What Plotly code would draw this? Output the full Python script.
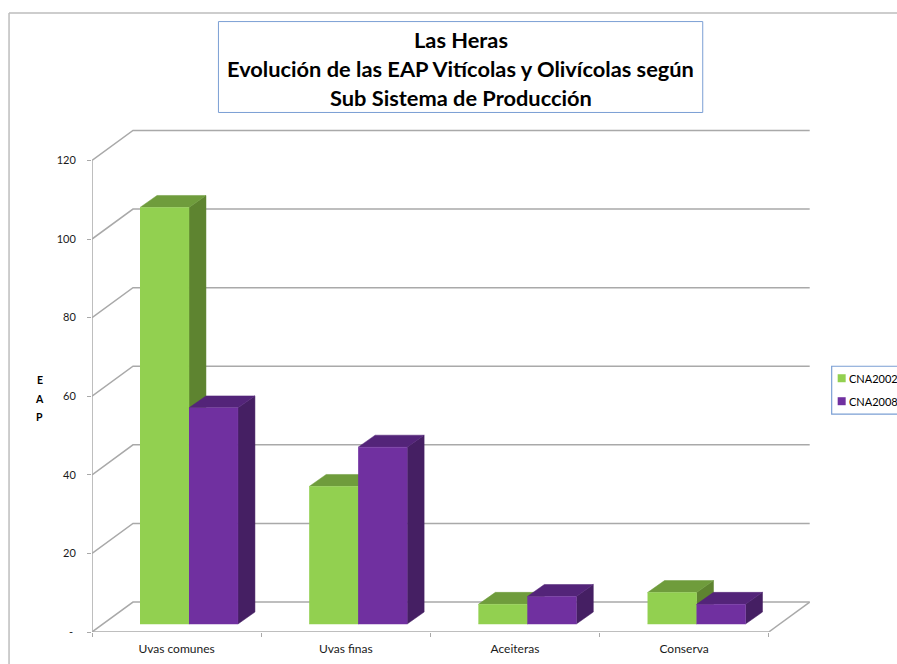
import plotly.graph_objects as go

categories = ["Uvas comunes", "Uvas finas", "Aceiteras", "Conserva"]
cna2002 = [106, 35, 5, 8]
cna2008 = [55, 45, 7, 5]
y_ticks = [0, 20, 40, 60, 80, 100, 120]
y_labels = ["-\u00a0", "20", "40", "60", "80", "100", "120"]

W, H = 897, 664
L, R, T, B = 92, 769, 160, 632
cat_px = (R - L) / 4
val_px = (B - T) / 120
wall_dx, wall_dy = 41 / cat_px, 30 / val_px
off_dx, off_dy = 12.4 / cat_px, 8 / val_px
bar_dx, bar_dy = 17 / cat_px, 12 / val_px
bar_w = 49 / cat_px
GRID = "#A9A9A9"
GREEN = ("#92D050", "#6F9C3C", "#5E8430")
PURPLE = ("#7030A0", "#532479", "#451F63")
BLUE = "#7B9FD4"
FONT = "Lato"

x0, x1 = -0.5, len(categories) - 0.5
x_top = x1 + 0.25
y_top = 128
PR = L + (x_top - x0) * cat_px
PT = B - y_top * val_px


def px(p):
    return (p - L) / (PR - L)


def py(p):
    return (B - p) / (B - PT)


fig = go.Figure()


def line(xs, ys):
    fig.add_trace(go.Scatter(x=xs, y=ys, mode="lines", showlegend=False, hoverinfo="skip",
                             cliponaxis=False, line=dict(color=GRID, width=1.5)))


def poly(xs, ys, color):
    fig.add_trace(go.Scatter(x=xs, y=ys, mode="lines", fill="toself", fillcolor=color,
                             showlegend=False, hoverinfo="skip", cliponaxis=False,
                             line=dict(color=color, width=0.5)))


for v in y_ticks:
    line([x0, x0 + wall_dx, x1 + wall_dx], [v, v + wall_dy, v + wall_dy])
line([x1, x1 + wall_dx], [0, wall_dy])
line([x0, x0], [0, y_ticks[-1]])
line([x0, x1], [0, 0])

for i in range(len(categories)):
    for left, v, cols in ((i + off_dx - bar_w, cna2002[i], GREEN), (i + off_dx, cna2008[i], PURPLE)):
        right = left + bar_w
        b, t = off_dy, off_dy + v
        poly([right, right + bar_dx, right + bar_dx, right],
             [b, b + bar_dy, t + bar_dy, t], cols[2])
        poly([left, left + bar_dx, right + bar_dx, right],
             [t, t + bar_dy, t + bar_dy, t], cols[1])
        poly([left, right, right, left], [b, b, t, t], cols[0])

shapes = [
    # outer chart frame
    dict(type="line", xref="paper", yref="paper", x0=px(9), x1=px(W + 5), y0=py(12.5), y1=py(12.5),
         line=dict(color="#BDBDBD", width=1.5)),
    dict(type="line", xref="paper", yref="paper", x0=px(9), x1=px(9), y0=py(12.5), y1=py(H + 5),
         line=dict(color="#BDBDBD", width=1.5)),
    # legend box
    dict(type="rect", xref="paper", yref="paper", x0=px(832), x1=px(W + 5), y0=py(366), y1=py(414),
         line=dict(color=BLUE, width=1.2)),
    # title box
    dict(type="rect", xref="paper", yref="paper", x0=px(218.5), x1=px(703), y0=py(21), y1=py(112),
         line=dict(color=BLUE, width=1)),
]
annotations = []
for text, yp in (("Las Heras", 39), ("Evolución de las EAP Vitícolas y Olivícolas según", 68),
                 ("Sub Sistema de Producción", 97)):
    annotations.append(dict(text=f"<b>{text}</b>", xref="paper", yref="paper", x=px(461), y=py(yp),
                            xanchor="center", yanchor="middle", showarrow=False,
                            font=dict(family=FONT, size=21.8, color="black")))
for letter, yp in (("E", 380), ("A", 399), ("P", 417)):
    annotations.append(dict(text=f"<b>{letter}</b>", xref="paper", yref="paper", x=px(39.5), y=py(yp),
                            xanchor="center", yanchor="middle", showarrow=False,
                            font=dict(family=FONT, size=10.5, color="black")))
for name, col, yp in (("CNA2002", GREEN[0], 378), ("CNA2008", PURPLE[0], 401)):
    shapes.append(dict(type="rect", xref="paper", yref="paper", x0=px(838), x1=px(846),
                       y0=py(yp + 4), y1=py(yp - 4), fillcolor=col, line=dict(width=0)))
    annotations.append(dict(text=name, xref="paper", yref="paper", x=px(847), y=py(yp),
                            xanchor="left", yanchor="middle", showarrow=False,
                            font=dict(family=FONT, size=11, color="black")))

fig.update_layout(
    width=W, height=H, autosize=False, showlegend=False,
    margin=dict(l=L, r=W - PR, t=PT, b=H - B, autoexpand=False),
    paper_bgcolor="white", plot_bgcolor="rgba(0,0,0,0)",
    shapes=shapes, annotations=annotations,
    font=dict(family=FONT, size=11, color="black"),
    xaxis=dict(range=[x0, x_top], tickmode="array", tickvals=list(range(len(categories))), ticktext=categories,
               ticks="", showgrid=False, zeroline=False, showline=False,
               ticklabelstandoff=8, tickfont=dict(family=FONT, size=12, color="#1a1a1a"),
               minor=dict(tickmode="array", tickvals=[x0 + k for k in range(len(categories) + 1)],
                          ticks="outside", ticklen=4, tickcolor=GRID, tickwidth=1.2, showgrid=False)),
    yaxis=dict(range=[0, y_top], tickmode="array", tickvals=y_ticks, ticktext=y_labels,
               ticks="outside", ticklen=4, tickcolor=GRID, tickwidth=1.2, showgrid=False, zeroline=False,
               showline=False, ticklabelstandoff=9, tickfont=dict(family=FONT, size=11, color="#1a1a1a")),
)
fig.write_html("out.html", post_script="document.body.style.margin='0';", config={"displayModeBar": False})
